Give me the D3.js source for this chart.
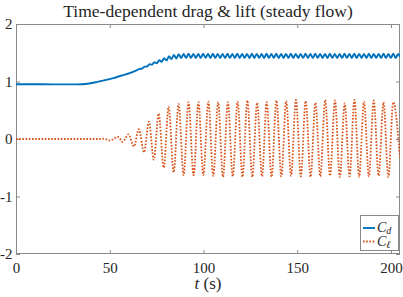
<!DOCTYPE html>
<html><head><meta charset="utf-8">
<script src="https://cdn.jsdelivr.net/npm/d3@7"></script>
<style>
html,body{margin:0;padding:0;background:#fff;}
text{font-family:"Liberation Serif","Times New Roman",serif;fill:#262626;}
</style></head>
<body><svg id="c" width="403" height="297"></svg>
<script>
// ---- data ----
const titleText = "Time-dependent drag & lift (steady flow)";
const xTicks = [0, 50, 100, 150, 200];
const yTicks = [-2, -1, 0, 1, 2];
const xDomain = [0, 204.8];
const yDomain = [-2, 2];

const cdTime = [0,10,20,30,35,39,43,47,52,56,61,64,
 66.0,67.3,68.6,69.9,71.2,72.5,73.8,75.1,76.4,77.7,79.0,80.3,81.6,82.9,84.2,85.5,86.8,
 88.1,89.4,90.7,92.0,93.3,94.6,95.9,97.2,98.5,99.8,101.1,102.4,103.7,105.0,106.3,107.6,108.9,110.2,
 111.5,112.8,114.1,115.4,116.7,118.0,119.3,120.6,121.9,123.2,124.5,125.8,127.1,128.4,129.7,131.0,
 132.3,133.6,134.9,136.2,137.5,138.8,140.1,141.4,142.7,144.0,145.3,146.6,147.9,149.2,150.5,151.8,
 153.1,154.4,155.7,157.0,158.3,159.6,160.9,162.2,163.5,164.8,166.1,167.4,168.7,170.0,171.3,172.6,
 173.9,175.2,176.5,177.8,179.1,180.4,181.7,183.0,184.3,185.6,186.9,188.2,189.5,190.8,192.1,193.4,
 194.7,196.0,197.3,198.6,199.9,201.2,202.5,203.8,204.8];
const cdValue = [0.953,0.952,0.950,0.950,0.953,0.965,0.990,1.020,1.060,1.100,1.150,1.190,
 1.220,1.226,1.258,1.261,1.301,1.292,1.336,1.317,1.371,1.342,1.406,1.367,1.440,1.389,1.463,1.401,1.475,
 1.408,1.480,1.410,1.482,1.411,1.479,1.409,1.481,1.410,1.483,1.412,1.480,1.409,1.482,1.411,1.481,1.410,1.479,
 1.408,1.482,1.411,1.480,1.410,1.483,1.409,1.481,1.411,1.480,1.410,1.482,1.409,1.481,1.411,1.479,
 1.410,1.482,1.408,1.480,1.411,1.483,1.410,1.481,1.409,1.480,1.411,1.482,1.410,1.481,1.409,1.479,
 1.411,1.482,1.410,1.480,1.408,1.483,1.411,1.481,1.410,1.480,1.409,1.482,1.411,1.481,1.410,1.479,
 1.409,1.482,1.411,1.480,1.410,1.483,1.408,1.481,1.411,1.480,1.410,1.482,1.409,1.481,1.411,1.479,
 1.410,1.482,1.409,1.480,1.411,1.482,1.410,1.481,1.430];

const clTime = [0,44,47.0,50.0,54.5,56.9,60.0,62.9,65.5,68.3,70.9,73.5,
 76.1,78.8,81.4,84.1,86.7,89.4,92.0,94.7,97.3,99.9,
 102.6,105.2,107.8,110.4,113.0,115.6,118.2,120.8,123.4,126.0,
 128.6,131.2,133.7,136.3,138.9,141.5,144.1,146.7,149.3,151.9,
 154.5,157.1,159.7,162.3,164.9,167.5,170.1,172.7,175.3,177.9,
 180.5,183.0,185.6,188.2,190.8,193.4,196.0,198.6,201.2,204.8];
const clValue = [0,0,0.005,-0.025,0.035,-0.05,0.08,-0.13,0.17,-0.23,0.30,-0.36,
 0.44,-0.50,0.56,-0.58,0.61,-0.63,0.64,-0.63,0.64,-0.63,
 0.65,-0.64,0.64,-0.66,0.64,-0.65,0.65,-0.66,0.67,-0.66,
 0.63,-0.65,0.64,-0.66,0.67,-0.65,0.66,-0.64,0.68,-0.65,
 0.66,-0.66,0.63,-0.65,0.68,-0.64,0.67,-0.66,0.62,-0.65,
 0.68,-0.66,0.65,-0.65,0.67,-0.64,0.64,-0.66,0.64,-0.35];

const seriesNames = ["d", "\u2113"];
const seriesColors = ["#0072BD", "#D95319"];

// ---- layout ----
const svg = d3.select("#c");
const L = 16, R = 400, T = 24, B = 254;
const x = d3.scaleLinear().domain(xDomain).range([L, R]);
const y = d3.scaleLinear().domain(yDomain).range([B, T]);

svg.append("defs").append("clipPath").attr("id","clip")
  .append("rect").attr("x",L).attr("y",T).attr("width",R-L).attr("height",B-T);

const axisColor = "#8a8a8a";
const tickLen = 4;

const gx = svg.append("g").attr("transform",`translate(0,${B})`)
  .call(d3.axisBottom(x).tickValues(xTicks).tickSizeInner(-tickLen).tickSizeOuter(0).tickPadding(8).tickFormat(d3.format("d")));
const gxt = svg.append("g").attr("transform",`translate(0,${T})`)
  .call(d3.axisTop(x).tickValues(xTicks).tickSizeInner(-tickLen).tickSizeOuter(0).tickFormat(""));
const gy = svg.append("g").attr("transform",`translate(${L},0)`)
  .call(d3.axisLeft(y).tickValues(yTicks).tickSizeInner(-tickLen).tickSizeOuter(0).tickPadding(3.5).tickFormat(d => d < 0 ? "-" + Math.abs(d) : d));
const gyr = svg.append("g").attr("transform",`translate(${R},0)`)
  .call(d3.axisRight(y).tickValues(yTicks).tickSizeInner(-tickLen).tickSizeOuter(0).tickFormat(""));
[gx,gxt,gy,gyr].forEach(g => {
  g.select(".domain").remove();
  g.selectAll(".tick line").attr("stroke", axisColor);
  g.selectAll("text").style("font-family",'"Liberation Serif",serif').style("font-size","15px").attr("fill","#262626");
});
gx.selectAll("text").attr("dy","0.71em");

svg.append("rect").attr("x",L+0.5).attr("y",T+0.5).attr("width",R-L-1).attr("height",B-T-1)
  .attr("fill","none").attr("stroke",axisColor).attr("stroke-width",1);

const line = d3.line().x(d => x(d[0])).y(d => y(d[1])).curve(d3.curveMonotoneX);
const cdData = cdTime.map((t,i) => [t, cdValue[i]]);
const clData = clTime.map((t,i) => [t, clValue[i]]);
const plot = svg.append("g").attr("clip-path","url(#clip)");
plot.append("path").datum(clData).attr("d", line).attr("fill","none")
  .attr("stroke", seriesColors[1]).attr("stroke-width",1.8).attr("stroke-dasharray","1.6,1.6");
plot.append("path").datum(cdData).attr("d", line).attr("fill","none")
  .attr("stroke", seriesColors[0]).attr("stroke-width",1.9);

svg.append("text").attr("x",(L+R)/2).attr("y",17).attr("text-anchor","middle")
  .style("font-size","17.5px").text(titleText);

const xl = svg.append("text").attr("x",(L+R)/2).attr("y",289).attr("text-anchor","middle").style("font-size","17px");
xl.append("tspan").attr("font-style","italic").text("t");
xl.append("tspan").text(" (s)");

const lg = svg.append("g");
lg.append("rect").attr("x",360.5).attr("y",215.5).attr("width",38).attr("height",35)
  .attr("fill","#fff").attr("stroke",axisColor);
seriesNames.forEach((n,i) => {
  const yy = 228 + i*13.5;
  lg.append("line").attr("x1",363).attr("x2",375).attr("y1",yy).attr("y2",yy)
    .attr("stroke",seriesColors[i]).attr("stroke-width", i===0 ? 1.9 : 1.8)
    .attr("stroke-dasharray", i===0 ? null : "1.6,1.6");
  const t = lg.append("text").attr("x",377).attr("y",yy+4).style("font-size","14px");
  t.append("tspan").attr("font-style","italic").text("C");
  t.append("tspan").attr("font-style","italic").attr("dy",2).style("font-size","10px").text(n);
});
</script></body></html>
